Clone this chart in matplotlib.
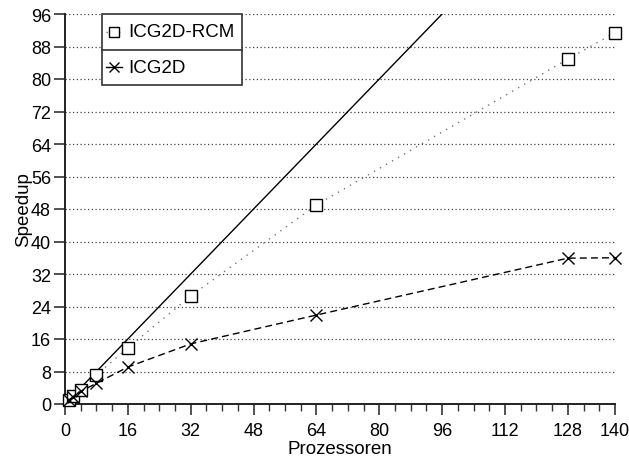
import matplotlib
matplotlib.use('Agg')
import matplotlib.pyplot as plt
from matplotlib.patches import Rectangle
from matplotlib.lines import Line2D

plt.rcParams['font.family'] = ['Liberation Sans', 'DejaVu Sans']

procs = [1, 2, 4, 8, 16, 32, 64, 128, 140]
rcm_speedup = [1.0, 2.0, 3.4, 7.2, 13.8, 26.6, 49.0, 84.9, 91.4]
icg_speedup = [1.0, 1.7, 3.1, 5.1, 9.1, 14.8, 21.9, 35.9, 36.0]
ideal_x = [0, 140]
ideal_y = [0, 140]
xticks = [0, 16, 32, 48, 64, 80, 96, 112, 128, 140]
yticks = [0, 8, 16, 24, 32, 40, 48, 56, 64, 72, 80, 88, 96]

fig = plt.figure(figsize=(6.29, 4.60), dpi=100)
ax = fig.add_axes([65 / 629, 55 / 460, 550 / 629, 390 / 460])

ax.plot(ideal_x, ideal_y, color='black', lw=1.0)
ax.plot(procs, rcm_speedup, color='#777777', lw=1.0, ls=(0, (1, 4)))
ax.plot(procs, rcm_speedup, ls='none', marker='s', ms=8.5, mfc='white',
        mec='black', mew=1.0, clip_on=False, zorder=4)
ax.plot(procs, icg_speedup, color='black', lw=1.0, ls=(0, (5, 3)),
        marker='x', ms=8.5, mew=1.0, clip_on=False, zorder=4)

ax.set_xlim(0, 140)
ax.set_ylim(0, 96)
ax.set_xticks(xticks)
ax.set_xticks(range(4, 140, 4), minor=True)
ax.set_yticks(yticks)
ax.yaxis.grid(True, ls=(0, (1, 2)), color='#444444', lw=0.9)
ax.set_axisbelow(True)

for s in ['top', 'right']:
    ax.spines[s].set_visible(False)
for s in ['left', 'bottom']:
    ax.spines[s].set_linewidth(1.4)
    ax.spines[s].set_color('#222222')

ax.tick_params(axis='x', which='major', length=8, width=1.2, labelsize=13, pad=5, color='#333333')
ax.tick_params(axis='x', which='minor', length=5, width=1.0, color='#333333')
ax.tick_params(axis='y', which='major', length=8, width=1.2, labelsize=13, pad=2, color='#333333')

ax.set_xlabel('Prozessoren', fontsize=13.5, labelpad=1)
ax.set_ylabel('Speedup', fontsize=13.5, labelpad=-1)

# legend box with divider
lx0, lx1 = 0.067, 0.322
ly0, ly1 = 0.818, 1.0
ymid = 0.908
ax.add_patch(Rectangle((lx0, ly0), lx1 - lx0, ly1 - ly0, transform=ax.transAxes,
                       fc='white', ec='#333333', lw=1.2, zorder=5, clip_on=False))
ax.add_line(Line2D([lx0, lx1], [ymid, ymid], transform=ax.transAxes,
                   color='#333333', lw=1.2, zorder=6))
entries = [('ICG2D-RCM', 's', (0, (1, 2)), '#777777', 0.954),
           ('ICG2D', 'x', '-', 'black', 0.863)]
for label, mk, ls, col, yy in entries:
    ax.add_line(Line2D([lx0 + 0.008, lx0 + 0.036], [yy, yy], transform=ax.transAxes,
                       color=col, lw=1.0, ls=ls, zorder=6))
    ax.add_line(Line2D([lx0 + 0.022], [yy], transform=ax.transAxes, marker=mk,
                       ms=6.5, mfc='white', mec='black', mew=1.0, ls='none', zorder=7))
    ax.text(lx0 + 0.048, yy, label, transform=ax.transAxes, va='center',
            ha='left', fontsize=13.5, zorder=7)

fig.savefig('out.png', dpi=100)
